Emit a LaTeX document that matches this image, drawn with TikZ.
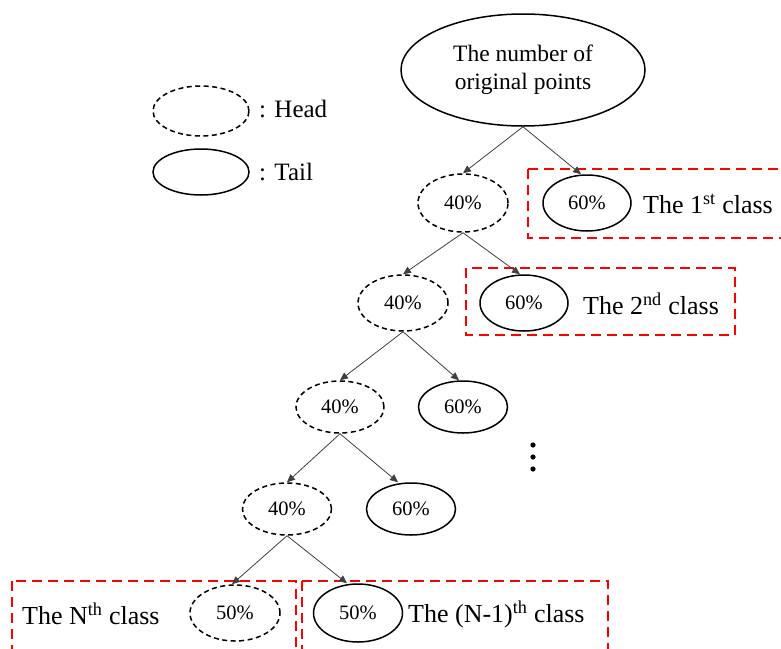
\documentclass[tikz,border=0pt]{standalone}
\usepackage{fontspec}
\setmainfont{Liberation Serif}
\usetikzlibrary{shapes.geometric,arrows.meta}
\tikzset{
  headnode/.style={ellipse,draw,dash pattern=on 5pt off 3.5pt,line width=1.5pt,inner sep=0pt,font=\fontsize{20.5}{22}\selectfont},
  tailnode/.style={ellipse,draw,line width=1.5pt,inner sep=0pt,font=\fontsize{20.5}{22}\selectfont},
  lbl/.style={anchor=west,inner sep=0pt,font=\fontsize{26}{28}\selectfont},
  redbox/.style={draw=red,line width=2pt,dash pattern=on 10pt off 6pt},
  edge/.style={draw=black!75,line width=0.8pt,-{Triangle[length=8pt,width=7pt]}}
}
\begin{document}
\begin{tikzpicture}[x=1pt,y=-1pt]
\clip (0,0) rectangle (781,648);
\fill[white] (0,0) rectangle (781,648);
% legend
\node[headnode,minimum width=96pt,minimum height=50pt] (lh) at (201,111) {};
\node[tailnode,minimum width=96pt,minimum height=46pt] (lt) at (201,172) {};
\node[lbl,font=\fontsize{25}{26}\selectfont] (lht) at (259,109) {: Head};
\node[lbl,font=\fontsize{25}{26}\selectfont] (ltt) at (259,172) {: Tail};
% root
\node[tailnode,minimum width=244pt,minimum height=112pt,align=center,font=\fontsize{23.5}{28}\selectfont] (root) at (523,70) {The number of\\original points};
% level 1
\node[headnode,minimum width=90pt,minimum height=58pt] (h1) at (463,203) {40\%};
\node[tailnode,minimum width=88pt,minimum height=56pt] (t1) at (587,203) {60\%};
\node[lbl] (c1) at (643,204) {The 1\textsuperscript{st} class};
\draw[redbox] (528,169) rectangle (800,238);
% level 2
\node[headnode,minimum width=90pt,minimum height=56pt] (h2) at (403,303) {40\%};
\node[tailnode,minimum width=88pt,minimum height=56pt] (t2) at (524,303) {60\%};
\node[lbl] (c2) at (583,304) {The 2\textsuperscript{nd} class};
\draw[redbox] (466,268) rectangle (735,335);
% level 3
\node[headnode,minimum width=88pt,minimum height=52pt] (h3) at (340,407) {40\%};
\node[tailnode,minimum width=89pt,minimum height=52pt] (t3) at (463,407) {60\%};
% level 4
\node[headnode,minimum width=89pt,minimum height=52pt] (h4) at (287,509) {40\%};
\node[tailnode,minimum width=89pt,minimum height=52pt] (t4) at (411,509) {60\%};
% dots
\fill (533,445) circle (2.6pt) (533,457) circle (2.6pt) (533,469) circle (2.6pt);
% level 5
\node[headnode,minimum width=90pt,minimum height=56pt] (h5) at (235,613) {50\%};
\node[tailnode,minimum width=89pt,minimum height=58pt] (t5) at (358,613) {50\%};
\node[lbl] (c5a) at (22,614) {The N\textsuperscript{th} class};
\node[lbl] (c5b) at (408,614) {The (N-1)\textsuperscript{th} class};
\draw[redbox] (12,581) rectangle (296,680);
\draw[redbox] (302,581) rectangle (608,680);
% edges
\draw[edge] (root.south) -- (h1.north);
\draw[edge] (root.south) -- ([xshift=-6pt]t1.north);
\draw[edge] (h1.south) -- (h2.north);
\draw[edge] (h1.south) -- ([xshift=-4pt]t2.north);
\draw[edge] (h2.south) -- (h3.north);
\draw[edge] (h2.south) -- ([xshift=-4pt]t3.north);
\draw[edge] (h3.south) -- (h4.north);
\draw[edge] (h3.south) -- ([xshift=-13pt]t4.north);
\draw[edge] (h4.south) -- ([xshift=-3pt]h5.north);
\draw[edge] (h4.south) -- ([xshift=-11pt]t5.north);
\end{tikzpicture}
\end{document}
